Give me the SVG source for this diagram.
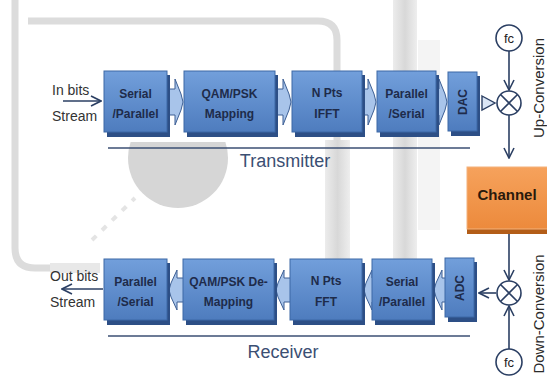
<svg xmlns="http://www.w3.org/2000/svg" width="547" height="381" viewBox="0 0 547 381">
<defs>
<linearGradient id="gBox" x1="0" y1="0" x2="0" y2="1">
<stop offset="0" stop-color="#729fdb"/>
<stop offset="1" stop-color="#4e7cbe"/>
</linearGradient>
<linearGradient id="gCh" x1="0" y1="0" x2="0" y2="1">
<stop offset="0" stop-color="#f6a25c"/>
<stop offset="1" stop-color="#ec8a3c"/>
</linearGradient>
<linearGradient id="gBand" x1="0" y1="0" x2="1" y2="0">
<stop offset="0" stop-color="#ececec"/>
<stop offset="0.5" stop-color="#d8d8d8"/>
<stop offset="1" stop-color="#eeeeee"/>
</linearGradient>
<clipPath id="cCirc"><rect x="100" y="142" width="160" height="80"/></clipPath>
<path id="conR" d="M-22,-13 H-8 V-23 L-2,-8 L0,0 L-2,8 L-8,23 V13 H-22 Z"/>
<path id="conL" d="M22,-12 H8 V-20 L2,-7 L0,0 L2,7 L8,20 V12 H22 Z"/>
<marker id="mV" viewBox="0 0 12 12" refX="11" refY="6" markerWidth="12" markerHeight="12" markerUnits="userSpaceOnUse" orient="auto">
<path d="M1,1 L11,6 L1,11" fill="none" stroke="#2b3f63" stroke-width="1.6"/>
</marker>
</defs>
<style>
.bg{fill:none;stroke:#dcdcdc;stroke-width:7}
.box{fill:url(#gBox);stroke:#3d69a6;stroke-width:1}
.sh{fill:#2d4f86}
.con{fill:#a8c4ea;stroke:#3d5f94;stroke-width:1}
.bt{font-family:"Liberation Sans",Arial,sans-serif;font-weight:bold;font-size:12px;fill:#1e2b4a;text-anchor:middle}
.lbl{font-family:"Liberation Sans",Arial,sans-serif;font-size:14px;fill:#333}
.cap{font-family:"Liberation Sans",Arial,sans-serif;font-size:18px;fill:#3b4f73;text-anchor:middle}
.vt{font-family:"Liberation Sans",Arial,sans-serif;font-size:15px;fill:#2a2a2a;text-anchor:middle}
.ln{fill:none;stroke:#2b3f63;stroke-width:1.6}
.circ{fill:#fff;stroke:#2b3f63;stroke-width:1.6}
.fc{font-family:"Liberation Sans",Arial,sans-serif;font-size:13px;fill:#222;text-anchor:middle}
</style>

<g id="background">
<path class="bg" d="M15,0 V248 Q15,268 35,268 H70"/>
<path d="M50,268 H100" stroke="#e8e8e8" stroke-width="10"/>
<path class="bg" d="M28,21 H318 Q337,21 337,40 V140"/>
<rect x="325" y="140" width="25" height="120" fill="url(#gBand)"/>
<rect x="393" y="0" width="24" height="262" fill="url(#gBand)"/>
<rect x="418" y="40" width="22" height="190" fill="#f4f4f4"/>
<circle cx="178" cy="158" r="50" fill="#d6d6d6" clip-path="url(#cCirc)"/>
<path d="M92,240 L135,198" stroke="#e4e4e4" stroke-width="4" stroke-dasharray="6,8"/>
</g>

<g id="connectors">
<use href="#conR" class="con" transform="translate(183,102)"/>
<use href="#conR" class="con" transform="translate(291,102)"/>
<use href="#conR" class="con" transform="translate(376,102)"/>
<use href="#conR" class="con" transform="translate(447,102)"/>
<use href="#conL" class="con" transform="translate(169,290)"/>
<use href="#conL" class="con" transform="translate(276,290)"/>
<use href="#conL" class="con" transform="translate(364,290)"/>
<use href="#conL" class="con" transform="translate(434,290)"/>
<line class="ln" x1="63" y1="101" x2="101" y2="101" marker-end="url(#mV)"/>
<line class="ln" x1="103" y1="289" x2="62" y2="289" marker-end="url(#mV)"/>
<polygon points="482,96 495,103 482,110" fill="#dbe6f5" stroke="#2b3f63" stroke-width="1.4"/>
<line class="ln" x1="509" y1="51" x2="509" y2="90" marker-end="url(#mV)"/>
<line class="ln" x1="509" y1="115" x2="509" y2="158" marker-end="url(#mV)"/>
<line class="ln" x1="509" y1="234" x2="509" y2="280" marker-end="url(#mV)"/>
<line class="ln" x1="509" y1="349" x2="509" y2="306" marker-end="url(#mV)"/>
<line class="ln" x1="496" y1="293" x2="479" y2="293" marker-end="url(#mV)"/>
<line x1="108" y1="148" x2="470" y2="148" stroke="#3b4f73" stroke-width="1.5"/>
<line x1="108" y1="336" x2="470" y2="336" stroke="#3b4f73" stroke-width="1.5"/>
</g>

<g id="tx-sp"><rect class="sh" x="107" y="75" width="63" height="62"/><rect class="box" x="104" y="71" width="63" height="61"/><text class="bt" x="135.5" y="98">Serial</text><text class="bt" x="135.5" y="118">/Parallel</text></g>
<g id="tx-map"><rect class="sh" x="187" y="75" width="91" height="62"/><rect class="box" x="184" y="71" width="91" height="61"/><text class="bt" x="229.5" y="98">QAM/PSK</text><text class="bt" x="229.5" y="118">Mapping</text></g>
<g id="tx-ifft"><rect class="sh" x="295" y="75" width="70" height="62"/><rect class="box" x="292" y="71" width="70" height="61"/><text class="bt" x="327" y="97">N Pts</text><text class="bt" x="327" y="118">IFFT</text></g>
<g id="tx-ps"><rect class="sh" x="380" y="75" width="59" height="62"/><rect class="box" x="377" y="71" width="59" height="61"/><text class="bt" x="406.5" y="98">Parallel</text><text class="bt" x="406.5" y="118">/Serial</text></g>
<g id="tx-dac"><rect class="sh" x="451" y="76" width="29" height="60"/><rect class="box" x="448" y="72" width="29" height="59"/><text class="bt" transform="translate(467,102) rotate(-90)">DAC</text></g>

<g id="rx-ps"><rect class="sh" x="107" y="263" width="63" height="62"/><rect class="box" x="104" y="259" width="63" height="61"/><text class="bt" x="135.5" y="286">Parallel</text><text class="bt" x="135.5" y="306">/Serial</text></g>
<g id="rx-demap"><rect class="sh" x="186" y="263" width="91" height="62"/><rect class="box" x="183" y="259" width="91" height="61"/><text class="bt" x="228.5" y="286">QAM/PSK De-</text><text class="bt" x="228.5" y="306">Mapping</text></g>
<g id="rx-fft"><rect class="sh" x="293" y="263" width="72" height="62"/><rect class="box" x="290" y="259" width="72" height="61"/><text class="bt" x="326" y="285">N Pts</text><text class="bt" x="326" y="306">FFT</text></g>
<g id="rx-sp"><rect class="sh" x="375" y="263" width="60" height="62"/><rect class="box" x="372" y="259" width="60" height="61"/><text class="bt" x="402" y="286">Serial</text><text class="bt" x="402" y="306">/Parallel</text></g>
<g id="rx-adc"><rect class="sh" x="448" y="262" width="29" height="60"/><rect class="box" x="445" y="258" width="29" height="59"/><text class="bt" transform="translate(464,288) rotate(-90)">ADC</text></g>

<g id="channel"><rect x="467" y="228" width="82" height="6" fill="#b35d18"/><rect x="467" y="167" width="82" height="62" fill="url(#gCh)" stroke="#f3b27c" stroke-width="1"/><text x="507" y="200" font-family="Liberation Sans, Arial, sans-serif" font-weight="bold" font-size="15" fill="#2a1a0c" text-anchor="middle">Channel</text></g>

<g id="fc-up"><circle class="circ" cx="509" cy="38" r="13"/><text class="fc" x="509" y="43">fc</text></g>
<g id="mix-up"><circle class="circ" cx="509" cy="103" r="12"/><path class="ln" d="M500.5,94.5 L517.5,111.5 M517.5,94.5 L500.5,111.5"/></g>
<g id="mix-down"><circle class="circ" cx="509" cy="293" r="12"/><path class="ln" d="M500.5,284.5 L517.5,301.5 M517.5,284.5 L500.5,301.5"/></g>
<g id="fc-down"><circle class="circ" cx="509" cy="362" r="13"/><text class="fc" x="509" y="367">fc</text></g>

<g id="labels">
<text class="lbl" x="52" y="95">In bits</text>
<text class="lbl" x="52" y="121" font-size="13.5">Stream</text>
<text class="lbl" x="50" y="281">Out bits</text>
<text class="lbl" x="50" y="307" font-size="13.5">Stream</text>
<text class="cap" x="285" y="167">Transmitter</text>
<text class="cap" x="283" y="358">Receiver</text>
<text class="vt" transform="translate(544,88) rotate(-90)">Up-Conversion</text>
<text class="vt" transform="translate(544,314) rotate(-90)" font-size="16">Down-Conversion</text>
</g>
</svg>
